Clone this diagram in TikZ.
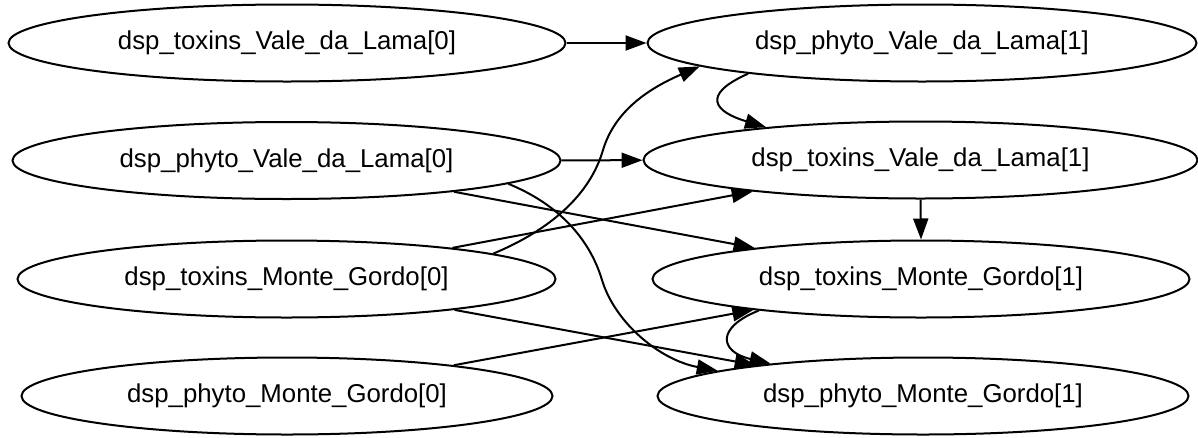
\documentclass[tikz,border=0pt]{standalone}
\usepackage{fontspec}
\setmainfont{Liberation Sans}
\usetikzlibrary{shapes.geometric,arrows.meta}
\begin{document}
\begin{tikzpicture}[x=1pt,y=-1pt,
  state/.style={ellipse,draw,line width=2pt,inner sep=0pt,minimum height=77pt,
    font=\fontsize{25.8}{30}\selectfont},
  link/.style={line width=2pt,-{Triangle[length=21pt,width=15pt]}}]
\useasboundingbox (0,0) rectangle (1198,437);

% time slice 0
\node[state,minimum width=557pt] (tVL0) at (287,43)    {dsp\_toxins\_Vale\_da\_Lama[0]};
\node[state,minimum width=548pt] (pVL0) at (286.5,160.5) {dsp\_phyto\_Vale\_da\_Lama[0]};
\node[state,minimum width=538pt] (tMG0) at (286.5,279) {dsp\_toxins\_Monte\_Gordo[0]};
\node[state,minimum width=531pt] (pMG0) at (287,396)   {dsp\_phyto\_Monte\_Gordo[0]};

% time slice 1
\node[state,minimum width=549pt] (pVL1) at (922,43)    {dsp\_phyto\_Vale\_da\_Lama[1]};
\node[state,minimum width=554pt] (tVL1) at (920.5,160) {dsp\_toxins\_Vale\_da\_Lama[1]};
\node[state,minimum width=537pt] (tMG1) at (921,279)   {dsp\_toxins\_Monte\_Gordo[1]};
\node[state,minimum width=531pt] (pMG1) at (923,396)   {dsp\_phyto\_Monte\_Gordo[1]};

% bends of the two long curved links
\coordinate (bendA) at (602,280);
\coordinate (bendB) at (603,150);

% straight links
\draw[link] (tVL0) -- (pVL1);
\draw[link] (pVL0) -- (tVL1);
\draw[link] (pVL0) -- (tMG1);
\draw[link] (tMG0) -- (tVL1);
\draw[link] (tMG0) -- (pMG1);
\draw[link] (pMG0) -- (tMG1);
\draw[link] (tVL1.south) -- (tMG1.north);

% curved links
\draw[link] (pVL0.-6.6) .. controls (560,205) and (590,240) .. (bendA)
  .. controls (615,323) and (660,360) .. (pMG1.173.5);
\draw[link] (tMG0.7) .. controls (550,230) and (590,195) .. (bendB)
  .. controls (615,110) and (650,88) .. (pVL1.186.8);
\draw[link] (pVL1.190.3) .. controls (700,95) and (715,112) .. (tVL1.168.9);
\draw[link] (tMG1.191.6) .. controls (715,328) and (720,352) .. (pMG1.168.2);
\end{tikzpicture}
\end{document}
